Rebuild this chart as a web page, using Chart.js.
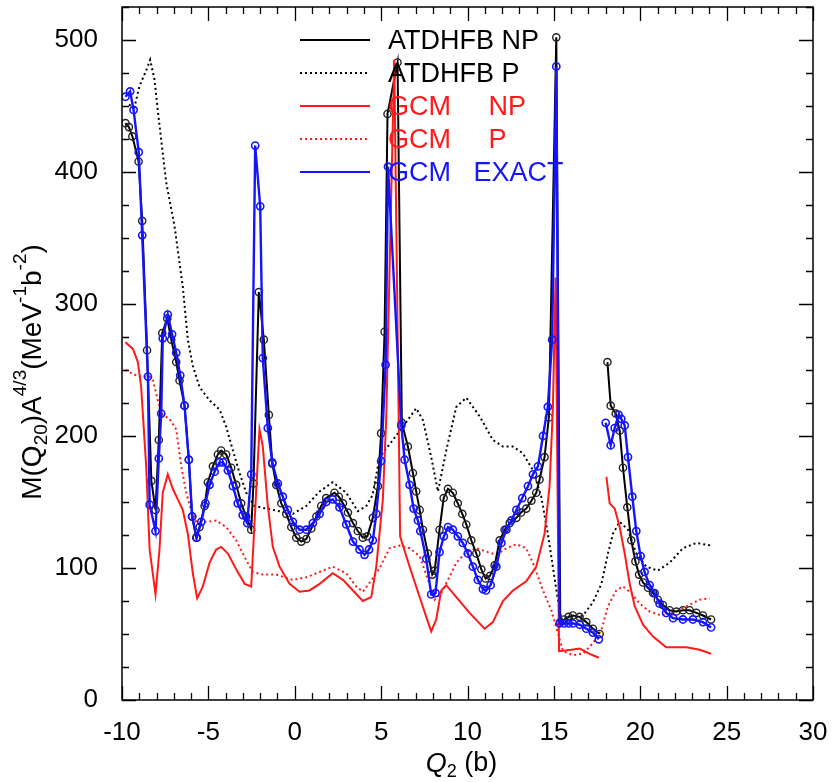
<!DOCTYPE html>
<html>
<head>
<meta charset="utf-8">
<script src="https://cdn.jsdelivr.net/npm/chart.js@4.4.1/dist/chart.umd.min.js"></script>
<style>
  html, body { margin: 0; padding: 0; background: #fff; }
  #wrap { width: 833px; height: 782px; position: relative; }
</style>
</head>
<body>
<div id="wrap"><canvas id="chart"></canvas></div>
<script>
// Q2 (b) / M(Q20)A^4/3 values
const atdhfbNpX = [-9.8, -9.6, -9.4, -9.04, -8.83, -8.55, -8.3, -8.06, -7.87, -7.67, -7.38, -7.15, -6.86, -6.67, -6.38, -6.13, -5.94, -5.7, -5.51, -5.22, -5.03, -4.74, -4.45, -4.26, -3.97, -3.68, -3.39, -3.1, -2.81, -2.52, -2.39, -2.08, -1.79, -1.5, -1.3, -1.07, -0.78, -0.49, -0.2, 0.09, 0.38, 0.67, 0.96, 1.25, 1.53, 1.82, 2.3, 2.55, 2.79, 3.08, 3.37, 3.65, 3.94, 4.2, 4.52, 4.81, 5.0, 5.2, 5.37, 5.95, 6.2, 6.55, 6.84, 7.03, 7.23, 7.42, 7.71, 7.96, 8.1, 8.38, 8.62, 8.87, 9.15, 9.44, 9.7, 9.93, 10.22, 10.51, 10.8, 11.05, 11.3, 11.57, 11.86, 12.15, 12.44, 12.83, 13.1, 13.4, 13.7, 13.98, 14.17, 14.46, 14.71, 15.14, 15.37, 15.6, 15.85, 16.1, 16.49, 16.88, 17.26, 17.65, 17.85, 18.1, 18.29, 18.58, 18.81, 19.0, 19.25, 19.48, 19.72, 19.93, 20.16, 20.45, 20.74, 21.02, 21.31, 21.7, 22.09, 22.47, 22.86, 23.25, 23.63, 24.1];
const atdhfbNpY = [437, 434, 427, 408, 363, 265, 166, 144, 197, 278, 289, 273, 256, 242, 223, 182, 139, 123, 131, 147, 165, 177, 186, 189, 186, 176, 163, 149, 139, 129, 164, 309, 273, 216, 179, 163, 149, 141, 131, 123, 120, 122, 130, 139, 147, 153, 157, 154, 149, 142, 134, 128, 123, 124, 138, 162, 202, 279, 444, 483, 210, 192, 172, 158, 144, 129, 111, 95, 98, 129, 153, 160, 157, 149, 141, 133, 121, 111, 99, 92, 94, 102, 121, 129, 134, 138, 142, 145, 151, 157, 167, 184, 214, 502, 59, 61, 63, 64, 63, 59, 54, 50, null, 256, 223, 217, 204, 176, 146, 121, 105, 95, 89, 85, 81, 76, 72, 68, 67, 68, 68, 66, 64, 61];

const atdhfbPX = [-9.6, -9.28, -8.99, -8.6, -8.37, -8.12, -7.93, -7.73, -7.44, -6.96, -6.48, -6.19, -5.9, -5.51, -4.93, -4.35, -3.97, -3.58, -3.2, -2.81, -2.33, -1.65, -0.88, -0.11, 0.67, 1.44, 2.2, 2.98, 3.65, 4.14, 4.5, 4.91, 5.68, 6.26, 7.03, 7.42, 7.9, 8.29, 8.77, 9.35, 9.93, 10.7, 11.47, 12.05, 12.63, 13.2, 13.79, 14.27, 14.65, 14.94, 15.23, 15.43, 16.1, 16.68, 17.26, 17.75, 18.13, 18.42, 18.81, 19.29, 19.77, 20.35, 21.02, 21.7, 22.47, 23.25, 24.1];
const atdhfbPY = [451, 449, 465, 477, 485, 470, 447, 424, 392, 359, 313, 273, 253, 237, 227, 220, 207, 189, 172, 157, 147, 145, 143, 141, 147, 158, 165, 157, 143, 147, 155, 184, 197, 207, 221, 212, 184, 158, 189, 222, 229, 215, 197, 192, 192, 187, 174, 154, 126, 101, 76, 61, 62, 64, 74, 88, 111, 126, 135, 129, 111, 101, 98, 104, 115, 119, 117];

const gcmNpX = [-9.8, -9.37, -9.08, -8.89, -8.6, -8.4, -8.06, -7.83, -7.64, -7.35, -7.06, -6.77, -6.48, -6.19, -5.9, -5.65, -5.32, -4.93, -4.55, -4.26, -3.87, -3.39, -2.9, -2.52, -2.23, -2.04, -1.85, -1.56, -1.27, -0.88, -0.3, 0.28, 0.86, 1.44, 2.2, 2.79, 3.37, 3.94, 4.43, 4.72, 5.1, 5.3, 5.76, 6.1, 6.65, 7.23, 7.61, 7.9, 8.19, 8.48, 8.77, 9.35, 10.12, 10.99, 11.47, 12.05, 12.63, 13.4, 13.98, 14.46, 14.75, 14.94, 15.1, 15.3, 16.0, 16.5, 17.07, 17.6, 17.8, 18.04, 18.23, 18.52, 18.81, 19.1, 19.39, 19.68, 20.16, 20.74, 21.5, 22.67, 23.44, 24.1];
const gcmNpY = [271, 266, 256, 237, 177, 114, 80, 114, 157, 171, 160, 152, 144, 126, 96, 77, 86, 104, 114, 116, 111, 99, 88, 86, 159, 205, 192, 147, 116, 101, 88, 82, 83, 88, 96, 91, 83, 75, 78, 101, 152, 215, 485, 124, 101, 78, 63, 52, 61, 83, 87, 78, 66, 54, 59, 75, 83, 90, 101, 126, 162, 220, 320, 37, 38, 39, 35, 32, null, 169, 149, 145, 131, 111, 88, 71, 57, 48, 40, 40, 38, 35];

const gcmPX = [-9.8, -9.37, -8.98, -8.4, -8.2, -7.93, -7.64, -7.25, -6.86, -6.57, -6.28, -6.0, -5.7, -5.12, -4.55, -3.97, -3.39, -2.81, -2.43, -1.85, -1.07, -0.11, 0.67, 1.44, 2.2, 2.98, 3.56, 3.94, 4.4, 4.91, 5.49, 6.07, 6.65, 7.23, 7.71, 8.1, 8.48, 8.87, 9.35, 9.93, 10.51, 11.18, 11.67, 12.25, 12.83, 13.4, 13.88, 14.37, 14.85, 15.23, 15.52, 16.1, 16.68, 17.26, 17.75, 18.13, 18.61, 19.0, 19.48, 19.97, 20.54, 21.22, 21.9, 22.67, 23.44, 24.02];
const gcmPY = [250, 247, 245, 245, 242, 227, 216, 213, 205, 177, 157, 144, 135, 135, 136, 131, 121, 106, 97, 95, 95, 91, 93, 97, 101, 96, 86, 82, 90, 100, 115, 117, 115, 109, 91, 76, 81, 91, 104, 112, 115, 112, 110, 115, 118, 115, 101, 83, 68, 51, 37, 34, 35, 43, 53, 71, 83, 86, 81, 73, 67, 64, 66, 71, 76, 77];

const gcmExactX = [-9.8, -9.53, -9.33, -9.03, -8.83, -8.5, -8.4, -8.06, -7.87, -7.73, -7.64, -7.35, -7.1, -6.86, -6.63, -6.38, -6.13, -5.94, -5.67, -5.41, -5.17, -4.93, -4.64, -4.35, -4.15, -3.87, -3.58, -3.3, -3.01, -2.75, -2.52, -2.29, -2.0, -1.85, -1.56, -1.3, -0.98, -0.69, -0.4, -0.11, 0.28, 0.67, 1.05, 1.44, 1.82, 2.2, 2.59, 2.98, 3.37, 3.75, 4.04, 4.3, 4.52, 4.72, 5.0, 5.26, 5.4, 6.17, 6.36, 6.65, 6.88, 7.13, 7.27, 7.61, 7.9, 8.15, 8.38, 8.63, 8.87, 9.15, 9.44, 9.73, 10.02, 10.31, 10.6, 10.89, 11.07, 11.34, 11.67, 11.96, 12.25, 12.54, 12.83, 13.17, 13.5, 13.79, 14.08, 14.37, 14.65, 14.9, 15.14, 15.33, 15.6, 15.85, 16.1, 16.5, 16.88, 17.26, 17.6, 17.8, 18.0, 18.29, 18.52, 18.75, 18.9, 19.1, 19.29, 19.54, 19.77, 20.02, 20.25, 20.54, 20.83, 21.12, 21.5, 21.9, 22.47, 23.05, 23.63, 24.1];
const gcmExactY = [457, 461, 447, 415, 352, 245, 148, 128, 183, 217, 274, 292, 277, 263, 246, 223, 182, 139, 123, 135, 149, 163, 173, 180, 180, 174, 162, 149, 140, 134, 171, 420, 374, 259, 206, 180, 164, 154, 144, 135, 129, 129, 134, 141, 150, 152, 146, 133, 120, 114, 110, 114, 121, 141, 181, 254, 404, 208, 182, 163, 145, 136, 128, 107, 80, 81, 112, 124, 131, 129, 124, 119, 111, 101, 91, 84, 83, 87, 101, 119, 129, 136, 144, 153, 162, 171, 177, 200, 222, 273, 480, 58, 58, 58, 58, 57, 54, 51, 46, null, 210, 193, 206, 216, 213, 208, 184, 154, 128, 109, 97, 87, 81, 73, 66, 62, 61, 61, 59, 55];

const xTicks = { min: -10, max: 30, step: 5, minor: 1 };
const yTicks = { min: 0, max: 525, step: 100, minor: 25 };

const legendNames = ['ATDHFB NP', 'ATDHFB P', 'GCM     NP', 'GCM     P', 'GCM   EXACT'];

const FONT = "'Liberation Sans', Arial, Helvetica, sans-serif";
const BLUE = '#1414ff';
const RED = '#ff1a1a';

function toPoints(xs, ys) {
    return xs.map((x, i) => ({ x: x, y: ys[i] }));
}

// frame with inward ticks on all four sides
const frameTicks = {
    id: 'frameTicks',
    afterDraw(chart) {
        const ctx = chart.ctx;
        const a = chart.chartArea;
        const xs = chart.scales.x;
        const ys = chart.scales.y;
        ctx.save();
        ctx.strokeStyle = '#000';
        ctx.lineWidth = 1.5;
        ctx.strokeRect(a.left, a.top, a.right - a.left, a.bottom - a.top);
        ctx.lineWidth = 1.3;
        ctx.beginPath();
        for (let v = xTicks.min; v <= xTicks.max; v += xTicks.minor) {
            const px = Math.round(xs.getPixelForValue(v)) + 0.5;
            const len = (v % xTicks.step === 0) ? 14 : 7;
            ctx.moveTo(px, a.bottom); ctx.lineTo(px, a.bottom - len);
            ctx.moveTo(px, a.top); ctx.lineTo(px, a.top + len);
        }
        for (let v = yTicks.min; v <= yTicks.max; v += yTicks.minor) {
            const py = Math.round(ys.getPixelForValue(v)) + 0.5;
            const len = (v % yTicks.step === 0) ? 14 : 7;
            ctx.moveTo(a.left, py); ctx.lineTo(a.left + len, py);
            ctx.moveTo(a.right, py); ctx.lineTo(a.right - len, py);
        }
        ctx.stroke();
        ctx.restore();
    }
};

// legend inside the plot, text coloured like its line
const insideLegend = {
    id: 'insideLegend',
    afterDraw(chart) {
        const ctx = chart.ctx;
        const a = chart.chartArea;
        const x0 = a.left + 178, x1 = a.left + 248, tx = a.left + 266;
        ctx.save();
        ctx.font = '27px ' + FONT;
        ctx.textBaseline = 'middle';
        chart.data.datasets.forEach((ds, i) => {
            const y = a.top + 33 + i * 33;
            ctx.strokeStyle = ds.borderColor;
            ctx.lineWidth = 2;
            ctx.setLineDash(ds.borderDash || []);
            ctx.beginPath();
            ctx.moveTo(x0, y); ctx.lineTo(x1, y);
            ctx.stroke();
            ctx.setLineDash([]);
            ctx.fillStyle = ds.textColor;
            ctx.fillText(legendNames[i], tx, y + 2);
        });
        ctx.restore();
    }
};

// axis titles with sub/superscripts
function drawRuns(ctx, runs, size) {
    let w = 0;
    runs.forEach(r => {
        ctx.font = (r.it ? 'italic ' : '') + (r.k ? Math.round(size * 0.68) : size) + 'px ' + FONT;
        r.w = ctx.measureText(r.t).width;
        w += r.w;
    });
    let x = -w / 2;
    runs.forEach(r => {
        ctx.font = (r.it ? 'italic ' : '') + (r.k ? Math.round(size * 0.68) : size) + 'px ' + FONT;
        const dy = r.k === 'sub' ? size * 0.3 : (r.k === 'sup' ? -size * 0.42 : 0);
        ctx.fillText(r.t, x, dy);
        x += r.w;
    });
}

const axisTitles = {
    id: 'axisTitles',
    afterDraw(chart) {
        const ctx = chart.ctx;
        const a = chart.chartArea;
        ctx.save();
        ctx.fillStyle = '#000';
        ctx.textBaseline = 'middle';
        ctx.textAlign = 'left';
        ctx.save();
        ctx.translate(a.left + (a.right - a.left) / 2 - 6, 764);
        drawRuns(ctx, [
            { t: 'Q', it: true }, { t: '2', k: 'sub' }, { t: ' (b)' }
        ], 27);
        ctx.restore();
        ctx.save();
        ctx.translate(33, 372);
        ctx.rotate(-Math.PI / 2);
        drawRuns(ctx, [
            { t: 'M(Q' }, { t: '20', k: 'sub' }, { t: ')A' }, { t: '4/3', k: 'sup' },
            { t: '(MeV' }, { t: '-1', k: 'sup' }, { t: 'b' }, { t: '-2', k: 'sup' }, { t: ')' }
        ], 28);
        ctx.restore();
        ctx.restore();
    }
};

function lineSet(label, xs, ys, color, opts) {
    return Object.assign({
        label: label,
        data: toPoints(xs, ys),
        borderColor: color,
        textColor: color,
        borderWidth: 2,
        pointRadius: 0,
        tension: 0,
        spanGaps: false,
        fill: false
    }, opts);
}

const ctx = document.getElementById('chart');
new Chart(ctx, {
    type: 'line',
    data: {
        datasets: [
            lineSet('ATDHFB NP', atdhfbNpX, atdhfbNpY, '#000', {
                order: 2, pointRadius: 3.6, pointBorderWidth: 1.4,
                pointBorderColor: '#222', pointBackgroundColor: 'rgba(0,0,0,0)'
            }),
            lineSet('ATDHFB P', atdhfbPX, atdhfbPY, '#000', { order: 4, borderDash: [2, 3] }),
            lineSet('GCM NP', gcmNpX, gcmNpY, RED, { order: 1 }),
            lineSet('GCM P', gcmPX, gcmPY, RED, { order: 3, borderDash: [2, 3] }),
            lineSet('GCM EXACT', gcmExactX, gcmExactY, BLUE, {
                order: 0, borderWidth: 2.4, pointRadius: 3.6, pointBorderWidth: 1.6,
                pointBorderColor: BLUE, pointBackgroundColor: 'rgba(0,0,0,0)'
            })
        ]
    },
    options: {
        responsive: true,
        maintainAspectRatio: false,
        animation: false,
        layout: { padding: { top: 7, right: 20, left: 0, bottom: 0 } },
        plugins: {
            legend: { display: false },
            tooltip: { enabled: false }
        },
        scales: {
            x: {
                type: 'linear',
                min: xTicks.min,
                max: xTicks.max,
                grid: { display: false },
                border: { display: false },
                ticks: {
                    stepSize: xTicks.step,
                    includeBounds: false,
                    padding: 9,
                    color: '#000',
                    font: { family: FONT, size: 26 },
                    maxRotation: 0
                },
                afterFit(scale) {
                    scale.height = 82;
                    scale.paddingLeft = 0;
                    scale.paddingRight = 0;
                }
            },
            y: {
                type: 'linear',
                min: yTicks.min,
                max: yTicks.max,
                grid: { display: false },
                border: { display: false },
                ticks: {
                    stepSize: yTicks.step,
                    includeBounds: false,
                    padding: 16,
                    color: '#000',
                    font: { family: FONT, size: 26 }
                },
                afterFit(scale) {
                    scale.width = 122;
                    scale.paddingTop = 0;
                    scale.paddingBottom = 0;
                }
            }
        }
    },
    plugins: [frameTicks, insideLegend, axisTitles]
});
</script>
</body>
</html>
